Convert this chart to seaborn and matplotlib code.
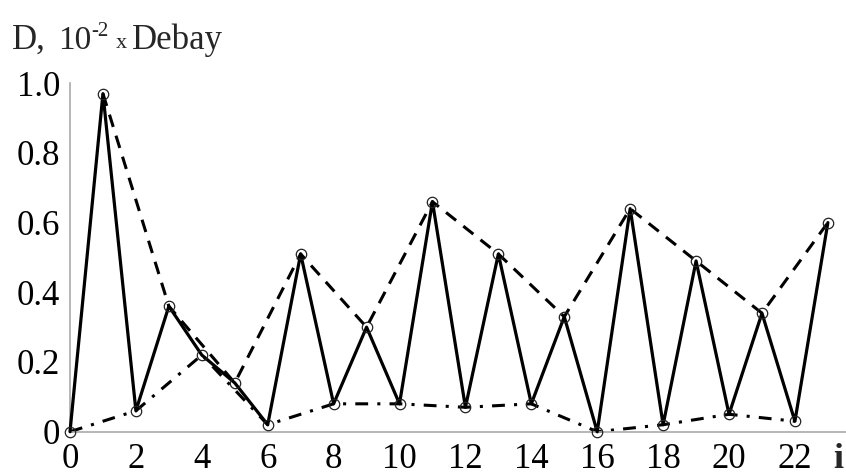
import numpy as np
import pandas as pd
import matplotlib
matplotlib.use("Agg")
import matplotlib.pyplot as plt
import seaborn as sns

# Dipole moment D (in units of 10^-2 Debye) for each index i
idx = list(range(24))
dip = [0.00, 0.97, 0.06, 0.36, 0.22, 0.14, 0.02, 0.51, 0.08, 0.30, 0.08, 0.66,
       0.07, 0.51, 0.08, 0.33, 0.00, 0.64, 0.02, 0.49, 0.05, 0.34, 0.03, 0.60]

x_ticks = list(range(0, 23, 2))
y_ticks = [0, 0.2, 0.4, 0.6, 0.8, 1.0]
y_tick_labels = ["0", "0.2", "0.4", "0.6", "0.8", "1.0"]

df = pd.DataFrame({"i": idx, "D": dip})
odd = df[df["i"] % 2 == 1]
even = df[df["i"] % 2 == 0]

sns.set_style("white")
plt.rcParams["font.family"] = ["Liberation Serif", "DejaVu Serif"]

W, H = 846, 475
fig = plt.figure(figsize=(W / 100, H / 100), dpi=100)
ax = fig.add_axes([70 / W, 43.3 / H, 776 / W, 348.5 / H])

# upper envelope through odd indices (dashed)
sns.lineplot(data=odd, x="i", y="D", ax=ax, color="black", lw=2.2,
             linestyle=(0, (4.2, 3.0)), zorder=2)
# lower envelope through even indices (dash-dot)
sns.lineplot(data=even, x="i", y="D", ax=ax, color="black", lw=2.2,
             linestyle=(0, (4.2, 3.0, 1.0, 3.0)), zorder=2)
# full series
sns.lineplot(data=df, x="i", y="D", ax=ax, color="black", lw=2.3,
             marker="o", markersize=7.5, markerfacecolor="none",
             markeredgecolor="#222222", markeredgewidth=0.9, zorder=3)
for ln in ax.lines:
    ln.set_clip_on(False)

ax.set_xlim(0, 23.55)
ax.set_ylim(0, 1.0)
ax.set_xticks(x_ticks)
ax.set_xticklabels([str(t) for t in x_ticks])
ax.set_yticks(y_ticks)
ax.set_yticklabels(y_tick_labels)
ax.set_xlabel("")
ax.set_ylabel("")

for side in ("top", "right"):
    ax.spines[side].set_visible(False)
for side in ("left", "bottom"):
    ax.spines[side].set_color("#aaaaaa")
    ax.spines[side].set_linewidth(1.2)

ax.tick_params(axis="both", which="major", labelsize=25, colors="#aaaaaa",
               labelcolor="black", direction="out", length=4, width=1.2)
ax.tick_params(axis="x", pad=4)
ax.tick_params(axis="y", pad=3)

# axis titles
def px(x, y):
    return x / W, 1 - y / H

fig.text(*px(12, 49), "D,", fontsize=25, va="baseline", ha="left")
fig.text(*px(58, 49), "10", fontsize=24, va="baseline", ha="left")
fig.text(*px(91, 36), "-2", fontsize=15, va="baseline", ha="left")
fig.text(*px(116, 48), "x", fontsize=16, va="baseline", ha="left")
fig.text(*px(132, 49), "Debay", fontsize=25, va="baseline", ha="left")
fig.text(*px(833, 468), "i", fontsize=26, va="baseline", ha="left",
         fontweight="bold")

fig.savefig("out.png", dpi=100)
